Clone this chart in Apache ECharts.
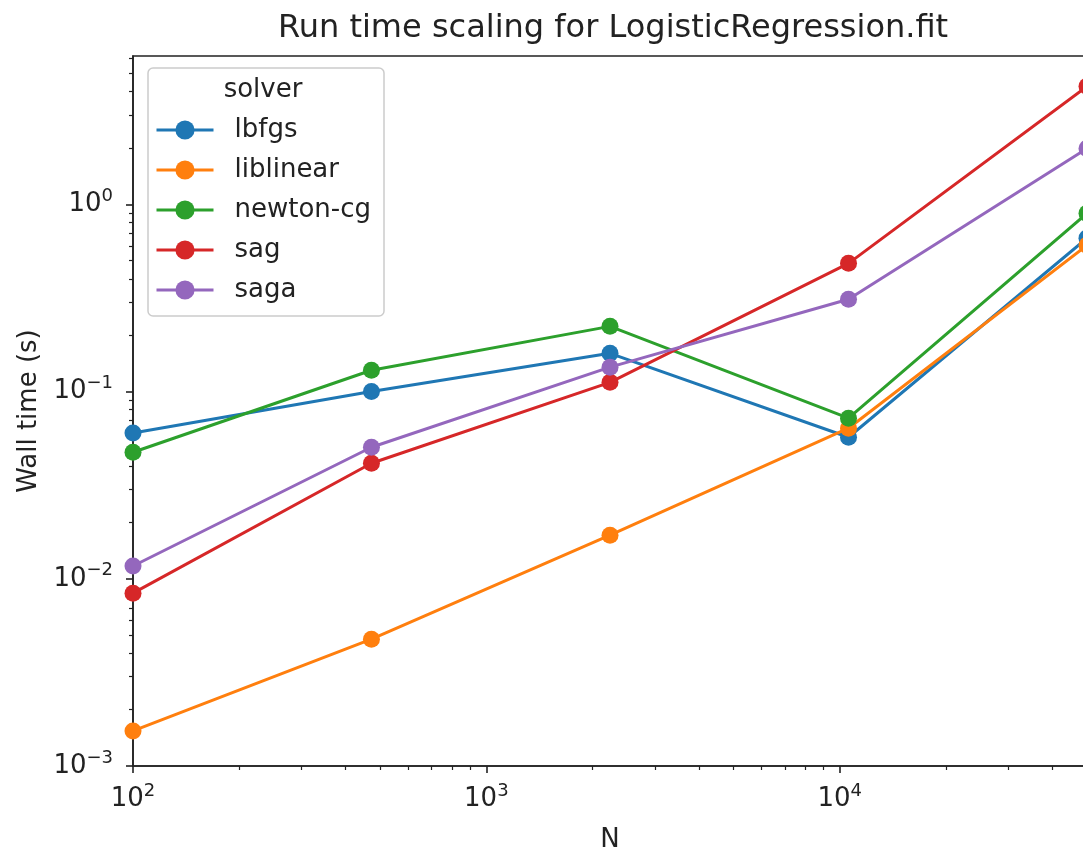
<!DOCTYPE html>
<html>
<head>
<meta charset="utf-8">
<script src="https://cdn.jsdelivr.net/npm/echarts@6/dist/echarts.min.js"></script>
<style>
    html, body { margin: 0; padding: 0; background: #fff; overflow: hidden; }
    #main { width: 1083px; height: 855px; }
</style>
</head>
<body>
<div id="main"></div>
<script>
// problem sizes (x axis)
var sizes = [100, 473, 2239, 10593, 50119];
var solvers = ['lbfgs', 'liblinear', 'newton-cg', 'sag', 'saga'];
var colors = ['#1f77b4', '#ff7f0e', '#2ca02c', '#d62728', '#9467bd'];

// wall time in seconds, one array per solver
var lbfgs = [0.060, 0.100, 0.160, 0.057, 0.66];
var liblinear = [0.00154, 0.00476, 0.0171, 0.0637, 0.604];
var newtonCg = [0.0474, 0.130, 0.223, 0.0721, 0.895];
var sag = [0.00838, 0.0414, 0.112, 0.484, 4.27];
var saga = [0.0117, 0.0504, 0.135, 0.311, 1.99];
var times = [lbfgs, liblinear, newtonCg, sag, saga];

// tick values
var xMajor = [100, 1000, 10000];
var xMinor = [200, 300, 400, 500, 600, 700, 800, 900, 2000, 3000, 4000, 5000, 6000, 7000, 8000, 9000, 20000, 30000, 40000, 50000];
var yMajor = [0.001, 0.01, 0.1, 1];
var yMinor = [0.002, 0.003, 0.004, 0.005, 0.006, 0.007, 0.008, 0.009,
    0.02, 0.03, 0.04, 0.05, 0.06, 0.07, 0.08, 0.09,
    0.2, 0.3, 0.4, 0.5, 0.6, 0.7, 0.8, 0.9, 2, 3, 4, 5, 6];

var FONT = 'DejaVu Sans';
var TXT = '#222222';
var xMin = 100, xMax = 50119, yMin = 0.001, yMax = 6.2;

// 10^n label with superscript
function powLabel(v) {
    var e = Math.round(Math.log10(v));
    return '{b|10}{s|' + String(e).replace('-', '\u2212') + '}';
}
var richPow = {
    b: { fontFamily: FONT, fontSize: 26, color: TXT },
    s: { fontFamily: FONT, fontSize: 18, color: TXT, padding: [0, 0, 16, 0] }
};

var chart = echarts.init(document.getElementById('main'));

var series = solvers.map(function (name, i) {
    return {
        name: name,
        type: 'line',
        data: sizes.map(function (n, j) { return [n, times[i][j]]; }),
        symbol: 'circle',
        symbolSize: 17,
        showAllSymbol: true,
        itemStyle: { color: colors[i] },
        lineStyle: { color: colors[i], width: 3 },
        emphasis: { disabled: true }
    };
});

chart.setOption({
    backgroundColor: '#fff',
    animation: false,
    title: {
        text: 'Run time scaling for LogisticRegression.fit',
        left: 608,
        top: 8,
        textAlign: 'center',
        textStyle: { fontFamily: FONT, fontSize: 32, fontWeight: 'normal', color: TXT }
    },
    grid: {
        left: 133, top: 56, width: 954, height: 710,
        outerBoundsMode: 'none',
        show: true, borderColor: '#222', borderWidth: 1.6,
        containLabel: false
    },
    legend: {
        orient: 'vertical',
        left: 148,
        top: 68,
        padding: [49, 13, 13, 7],
        itemGap: 14,
        itemWidth: 57,
        itemHeight: 24,
        backgroundColor: 'rgba(255,255,255,0.8)',
        borderColor: '#cccccc',
        borderWidth: 1.5,
        borderRadius: 5,
        lineStyle: { width: 3 },
        data: solvers,
        textStyle: { fontFamily: FONT, fontSize: 26, lineHeight: 26, color: TXT, padding: [0, 0, 0, 16] }
    },
    graphic: [{
        type: 'text',
        x: 263, y: 90,
        style: {
            text: 'solver', fontFamily: FONT, fontSize: 26, fill: TXT,
            align: 'center', verticalAlign: 'middle'
        },
        z: 100
    }],
    xAxis: [{
        type: 'log', logBase: 10, min: xMin, max: xMax,
        name: 'N', nameLocation: 'middle', nameGap: 61,
        nameTextStyle: { fontFamily: FONT, fontSize: 26, color: TXT },
        axisLine: { show: true, lineStyle: { color: '#222', width: 1.6 } },
        axisTick: { show: true, length: 7, lineStyle: { color: '#222', width: 1.6 }, customValues: xMajor },
        axisLabel: { margin: 16, formatter: powLabel, rich: richPow, customValues: xMajor },
        splitLine: { show: false }
    }, {
        type: 'log', logBase: 10, min: xMin, max: xMax, position: 'bottom',
        axisLine: { show: false },
        axisTick: { show: true, length: 4, lineStyle: { color: '#222', width: 1.2 }, customValues: xMinor },
        axisLabel: { show: false },
        splitLine: { show: false }
    }],
    yAxis: [{
        type: 'log', logBase: 10, min: yMin, max: yMax,
        name: 'Wall time (s)', nameLocation: 'middle', nameGap: 88, nameRotate: 90,
        nameTextStyle: { fontFamily: FONT, fontSize: 26, color: TXT },
        axisLine: { show: true, lineStyle: { color: '#222', width: 1.6 } },
        axisTick: { show: true, length: 7, lineStyle: { color: '#222', width: 1.6 }, customValues: yMajor },
        axisLabel: { margin: 20, formatter: powLabel, rich: richPow, customValues: yMajor },
        splitLine: { show: false }
    }, {
        type: 'log', logBase: 10, min: yMin, max: yMax, position: 'left',
        axisLine: { show: false },
        axisTick: { show: true, length: 4, lineStyle: { color: '#222', width: 1.2 }, customValues: yMinor },
        axisLabel: { show: false },
        splitLine: { show: false }
    }],
    series: series
});
</script>
</body>
</html>
